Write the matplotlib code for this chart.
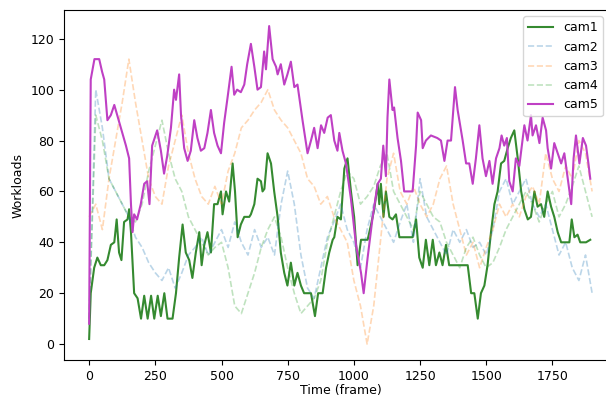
import matplotlib
matplotlib.use('Agg')
import matplotlib.pyplot as plt

# ---- data ----
# cam1 / cam5 : (frame, workload) points
cam1_frames = [0, 6, 19, 31, 44, 57, 69, 82, 95, 104, 113, 122, 132, 145, 151, 158, 170, 183,
               196, 208, 221, 234, 246, 259, 271, 284, 296, 315, 328, 340, 353, 365, 378, 390,
               403, 416, 425, 435, 447, 460, 472, 485, 498, 504, 517, 529, 542, 551, 561, 573,
               586, 605, 611, 624, 636, 649, 655, 662, 674, 687, 699, 712, 724, 737, 749, 762,
               775, 787, 800, 812, 838, 853, 865, 882, 895, 907, 920, 926, 938, 951, 964, 976,
               989, 1001, 1014, 1027, 1052, 1065, 1077, 1090, 1096, 1102, 1112, 1121, 1134, 1146,
               1159, 1172, 1222, 1235, 1247, 1260, 1272, 1285, 1298, 1310, 1323, 1335, 1348, 1360,
               1430, 1443, 1455, 1468, 1480, 1493, 1505, 1518, 1531, 1543, 1556, 1568, 1581, 1593,
               1606, 1619, 1632, 1644, 1657, 1669, 1682, 1694, 1707, 1719, 1732, 1745, 1757, 1770,
               1783, 1814, 1823, 1833, 1845, 1855, 1877, 1893]
cam1_vals = [2, 20, 30, 34, 31, 31, 33, 39, 40, 49, 36, 33, 48, 49, 53, 44, 20, 18,
             10, 19, 10, 19, 10, 19, 11, 20, 10, 10, 20, 34, 47, 36, 33, 26,
             36, 44, 31, 39, 44, 36, 55, 55, 60, 51, 60, 56, 71, 60, 42, 47,
             50, 50, 51, 55, 65, 64, 60, 61, 75, 71, 60, 50, 36, 28, 23, 32,
             23, 28, 23, 20, 20, 11, 20, 20, 30, 36, 41, 42, 50, 49, 69, 73,
             60, 50, 31, 41, 41, 47, 53, 63, 55, 63, 50, 60, 50, 49,
             51, 42, 42, 49, 34, 30, 41, 31, 41, 31, 36, 31, 39, 31,
             31, 20, 20, 10, 20, 23, 31, 44, 55, 60, 71, 72, 77, 81,
             84, 73, 60, 53, 49, 50, 60, 54, 55, 50, 60, 54, 50, 44,
             40, 40, 49, 42, 43, 40, 40, 41]

cam5_frames = [0, 6, 20, 38, 49, 57, 69, 82, 95, 106, 120, 139, 151, 158, 164, 170, 181, 195,
               208, 219, 228, 238, 257, 271, 283, 295, 309, 321, 328, 340, 347, 359, 372, 384,
               397, 409, 422, 435, 447, 460, 472, 485, 498, 510, 523, 538, 548, 559, 573, 586,
               597, 611, 624, 636, 649, 661, 668, 680, 693, 706, 712, 724, 737, 749, 762, 775,
               787, 806, 825, 838, 850, 863, 876, 888, 901, 913, 926, 938, 945, 957, 970, 989,
               1008, 1027, 1037, 1052, 1071, 1090, 1102, 1111, 1121, 1127, 1134, 1146, 1152, 1165,
               1178, 1190, 1222, 1235, 1241, 1254, 1260, 1272, 1291, 1315, 1329, 1342, 1354, 1367,
               1382, 1392, 1411, 1424, 1436, 1449, 1461, 1474, 1486, 1499, 1512, 1524, 1537, 1550,
               1558, 1568, 1578, 1587, 1600, 1612, 1625, 1644, 1656, 1669, 1675, 1688, 1701, 1713,
               1726, 1732, 1745, 1757, 1770, 1783, 1795, 1808, 1821, 1830, 1839, 1852, 1865, 1877,
               1886, 1893]
cam5_vals = [8, 104, 112, 112, 107, 104, 88, 90, 94, 90, 85, 78, 73, 55, 44, 51, 49, 55,
             63, 64, 55, 78, 84, 76, 67, 74, 85, 100, 96, 106, 90, 77, 72, 76,
             88, 81, 76, 77, 83, 92, 83, 78, 75, 87, 97, 109, 98, 100, 99, 102,
             110, 118, 109, 100, 101, 115, 108, 125, 112, 109, 106, 110, 102, 106, 111, 101,
             102, 88, 75, 80, 85, 77, 86, 83, 89, 90, 80, 76, 83, 76, 71, 57,
             39, 28, 20, 34, 50, 63, 65, 78, 66, 89, 104, 92, 93, 81,
             72, 60, 60, 78, 91, 88, 77, 80, 82, 81, 80, 72, 80, 80,
             101, 92, 80, 71, 71, 63, 73, 86, 73, 66, 72, 63, 73, 77,
             82, 78, 81, 64, 60, 73, 70, 86, 80, 90, 82, 86, 79, 89,
             84, 77, 69, 79, 75, 71, 75, 65, 55, 73, 82, 71, 81, 78,
             71, 65]

# cam2 / cam3 / cam4 : sampled every 25 frames
grid_frames = list(range(0, 1901, 25))
cam2_vals = [10, 100, 85, 65, 60, 55, 50, 42, 38, 32, 28, 25, 30, 22, 28, 35, 38, 42, 35, 40,
             45, 38, 48, 40, 35, 45, 38, 42, 35, 55, 68, 55, 35, 22, 18, 30, 42, 48, 55, 45,
             40, 30, 45, 55, 50, 45, 40, 48, 55, 40, 65, 50, 45, 40, 35, 45, 40, 45, 38, 40,
             35, 45, 60, 65, 55, 60, 65, 55, 50, 55, 45, 35, 40, 30, 25, 35, 20]
cam3_vals = [50, 55, 45, 65, 80, 95, 112, 95, 80, 65, 58, 55, 70, 80, 90, 75, 65, 58, 55, 62,
             55, 68, 75, 85, 88, 92, 95, 100, 92, 88, 85, 80, 75, 65, 62, 55, 58, 50, 45, 40,
             25, 15, 0, 15, 40, 65, 75, 60, 55, 62, 55, 50, 55, 65, 70, 55, 45, 35, 40, 30,
             38, 45, 55, 50, 55, 50, 58, 62, 55, 75, 65, 60, 70, 65, 80, 75, 60]
cam4_vals = [10, 90, 80, 65, 60, 55, 50, 48, 55, 68, 78, 88, 75, 65, 60, 50, 45, 40, 35, 38,
             40, 30, 15, 12, 20, 28, 38, 45, 50, 42, 30, 20, 12, 15, 18, 25, 40, 50, 60, 68,
             65, 55, 58, 62, 70, 75, 60, 55, 50, 45, 60, 55, 50, 48, 40, 35, 30, 38, 42, 35,
             30, 32, 38, 45, 50, 55, 60, 55, 48, 55, 60, 50, 55, 62, 70, 60, 50]

fig = plt.figure(figsize=(6.06, 3.98), dpi=100)
ax = fig.add_axes([0.1056, 0.0955, 0.913, 0.879])

ax.plot(cam1_frames, cam1_vals, color='#358a30', lw=1.5, label='cam1')
ax.plot(grid_frames, cam2_vals, color='C0', ls='--', alpha=0.3, lw=1.2, label='cam2')
ax.plot(grid_frames, cam3_vals, color='C1', ls='--', alpha=0.3, lw=1.2, label='cam3')
ax.plot(grid_frames, cam4_vals, color='C2', ls='--', alpha=0.3, lw=1.2, label='cam4')
ax.plot(cam5_frames, cam5_vals, color='#bf40c4', lw=1.5, label='cam5')

ax.set_xlabel('Time (frame)', fontsize=9, labelpad=1)
ax.set_ylabel('Workloads', fontsize=9)
ax.tick_params(labelsize=9)
ax.legend(loc='upper right', bbox_to_anchor=(0.9855, 1.0), fontsize=9)

fig.savefig('out.png', dpi=100)
